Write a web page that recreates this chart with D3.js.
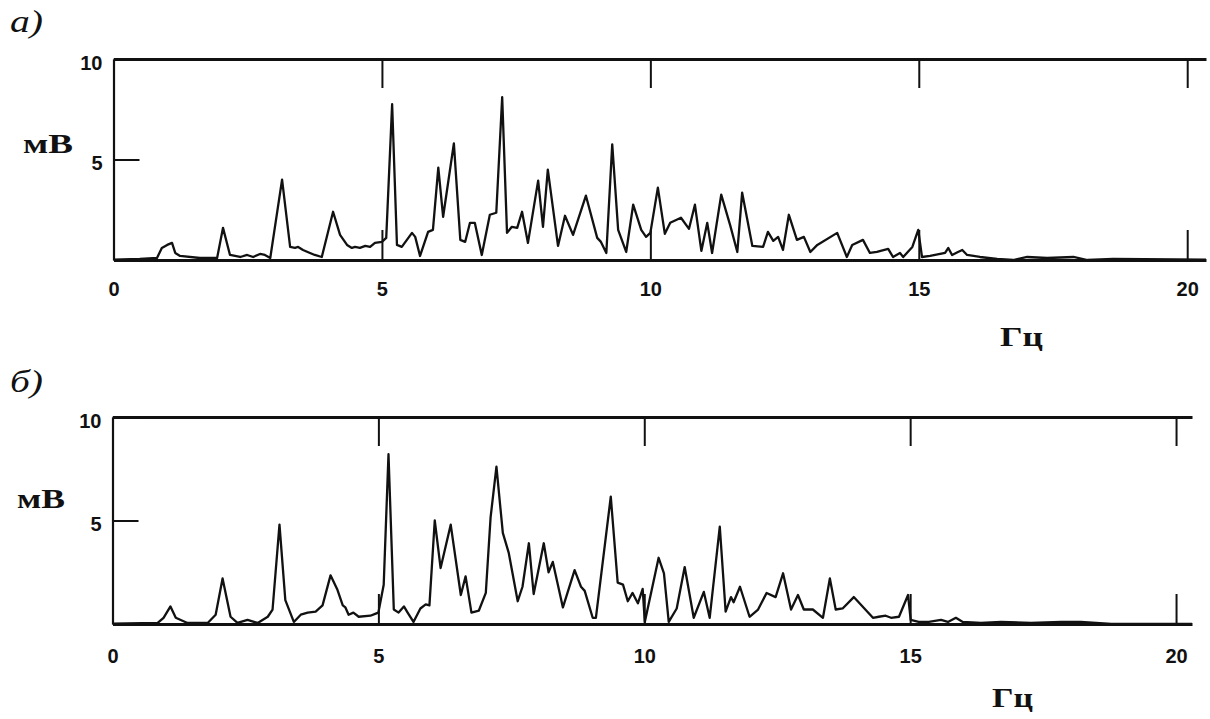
<!DOCTYPE html>
<html>
<head>
<meta charset="utf-8">
<script src="https://cdn.jsdelivr.net/npm/d3@7"></script>
<style>
  html, body { margin: 0; padding: 0; background: #fff; }
  svg { display: block; }
</style>
</head>
<body>
<svg id="chart" width="1210" height="719"></svg>
<script>
// ---- data ----
const panelLabels = ["а)", "б)"];
const yUnit = "мВ";
const xUnit = "Гц";
const xTickValues = [0, 5, 10, 15, 20];
const yTickValues = [5, 10];

// panel а) : frequency (Hz) and amplitude (mV)
const freqA = [0.0,0.49,0.81,0.90,1.00,1.09,1.15,1.24,1.61,1.93,2.04,2.17,2.36,2.49,2.60,2.73,2.82,2.92,3.14,3.29,3.38,3.44,3.53,3.66,3.75,3.88,4.09,4.22,4.35,4.44,4.50,4.59,4.69,4.78,4.87,5.00,5.08,5.19,5.28,5.37,5.56,5.62,5.71,5.86,5.95,6.05,6.14,6.34,6.46,6.55,6.64,6.73,6.86,7.01,7.13,7.24,7.33,7.42,7.52,7.61,7.72,7.91,8.00,8.09,8.28,8.41,8.56,8.80,9.01,9.08,9.18,9.29,9.40,9.55,9.68,9.83,9.92,10.0,10.14,10.27,10.37,10.57,10.72,10.83,10.95,11.06,11.15,11.32,11.49,11.62,11.71,11.90,12.10,12.19,12.29,12.38,12.47,12.58,12.73,12.86,12.98,13.11,13.48,13.66,13.76,13.96,14.09,14.22,14.43,14.52,14.65,14.71,14.88,14.99,15.06,15.21,15.49,15.55,15.62,15.73,15.81,15.90,16.14,16.46,16.76,17.02,17.39,17.88,18.14,18.62,20.35];
const valA  = [0.02,0.05,0.1,0.6,0.75,0.85,0.35,0.2,0.1,0.1,1.6,0.25,0.15,0.25,0.15,0.3,0.25,0.1,4.0,0.65,0.6,0.65,0.5,0.35,0.25,0.15,2.4,1.25,0.75,0.6,0.65,0.6,0.7,0.65,0.85,0.9,1.1,7.75,0.75,0.65,1.35,1.15,0.2,1.4,1.5,4.6,2.15,5.8,1.0,0.9,1.85,1.85,0.25,2.25,2.35,8.1,1.35,1.65,1.6,2.4,0.85,3.95,1.65,4.5,0.7,2.2,1.25,3.2,1.1,0.9,0.35,5.75,1.5,0.4,2.75,1.5,1.15,1.35,3.6,1.3,1.85,2.1,1.55,2.75,0.45,1.85,0.35,3.25,1.7,0.4,3.35,0.7,0.65,1.4,0.95,1.15,0.5,2.25,1.0,1.15,0.4,0.75,1.35,0.15,0.75,1.0,0.35,0.4,0.55,0.15,0.35,0.15,0.65,1.5,0.15,0.2,0.35,0.6,0.25,0.4,0.5,0.25,0.15,0.05,0.0,0.15,0.1,0.15,0.0,0.05,0.02];

// panel б)
const freqB = [0.0,0.85,0.96,1.09,1.19,1.41,1.79,1.94,2.07,2.22,2.35,2.54,2.73,2.92,3.01,3.14,3.25,3.41,3.54,3.67,3.82,3.95,4.10,4.23,4.33,4.38,4.44,4.53,4.63,4.85,4.95,5.00,5.10,5.19,5.29,5.38,5.48,5.55,5.66,5.79,5.89,5.96,6.06,6.17,6.36,6.55,6.64,6.75,6.89,7.02,7.11,7.22,7.34,7.45,7.62,7.71,7.83,7.92,8.11,8.20,8.28,8.47,8.69,8.81,8.88,9.03,9.09,9.37,9.50,9.60,9.69,9.78,9.88,9.97,10.01,10.27,10.37,10.46,10.61,10.76,10.93,11.12,11.23,11.42,11.53,11.63,11.68,11.80,11.98,12.14,12.30,12.47,12.61,12.76,12.89,13.00,13.17,13.36,13.49,13.60,13.73,13.94,14.30,14.41,14.54,14.64,14.79,14.96,15.01,15.16,15.35,15.58,15.71,15.86,15.99,16.33,16.71,17.27,17.84,18.21,18.78,20.3];
const valB  = [0.02,0.05,0.3,0.85,0.3,0.05,0.05,0.45,2.2,0.35,0.05,0.2,0.05,0.35,0.7,4.8,1.15,0.1,0.45,0.55,0.6,0.9,2.35,1.65,0.9,0.8,0.45,0.55,0.35,0.4,0.5,0.55,1.9,8.2,0.7,0.55,0.85,0.55,0.1,0.75,0.95,0.9,5.0,2.7,4.8,1.4,2.3,0.55,0.65,1.5,5.15,7.6,4.4,3.45,1.1,1.8,3.9,1.45,3.9,2.5,3.0,0.8,2.6,1.8,1.6,0.3,0.3,6.15,2.0,1.9,1.1,1.5,1.0,1.7,0.1,3.2,2.45,0.1,0.75,2.75,0.3,1.55,0.3,4.7,0.6,1.3,1.05,1.8,0.35,0.7,1.5,1.3,2.45,0.7,1.4,0.7,0.7,0.3,2.2,0.7,0.75,1.3,0.3,0.35,0.4,0.3,0.35,1.4,0.2,0.1,0.1,0.2,0.1,0.3,0.1,0.05,0.1,0.05,0.1,0.1,0.0,0.0];

// ---- layout ----
const panels = [
  { label: panelLabels[0], freq: freqA, val: valA,
    left: 113.5, right: 1206, top: 59, bottom: 260, xMax: 20.35,
    labelXY: [10, 32], unitY: [23, 153, 50], unitX: [1000, 346, 43], xPad: 22 },
  { label: panelLabels[1], freq: freqB, val: valB,
    left: 112.5, right: 1192, top: 417, bottom: 624, xMax: 20.3,
    labelXY: [10, 392], unitY: [17, 508, 48], unitX: [992, 707, 41], xPad: 25 }
];

const svg = d3.select("#chart");
svg.append("rect").attr("width", 1210).attr("height", 719).attr("fill", "#fff");

panels.forEach(p => {
  const x = d3.scaleLinear().domain([0, p.xMax]).range([p.left, p.right]);
  const y = d3.scaleLinear().domain([0, 10]).range([p.bottom, p.top]);
  const g = svg.append("g");

  // top frame with inward ticks
  const topAxis = d3.axisTop(x).tickValues(xTickValues.slice(1)).tickSizeInner(-29).tickSizeOuter(0).tickFormat("");
  const gt = g.append("g").attr("transform", `translate(0,${p.top})`).call(topAxis);
  gt.select(".domain").attr("stroke", "#111").attr("stroke-width", 3.2);
  gt.selectAll(".tick line").attr("stroke", "#111").attr("stroke-width", 2);

  // bottom axis (baseline) with inward ticks and labels
  const botAxis = d3.axisBottom(x).tickValues(xTickValues).tickSizeInner(-30).tickSizeOuter(0)
    .tickPadding(p.xPad).tickFormat(d3.format("d"));
  const gb = g.append("g").attr("transform", `translate(0,${p.bottom})`).call(botAxis);
  gb.select(".domain").attr("stroke", "#111").attr("stroke-width", 2.8);
  gb.selectAll(".tick line").attr("stroke", "#111").attr("stroke-width", 2)
    .filter(d => d === 0).remove();
  gb.selectAll(".tick text").attr("fill", "#111")
    .attr("font-family", "'Liberation Sans', Arial, sans-serif")
    .attr("font-size", 20).attr("font-weight", "bold");

  // left axis
  const leftAxis = d3.axisLeft(y).tickValues(yTickValues).tickSizeInner(-26).tickSizeOuter(0)
    .tickPadding(11).tickFormat(d3.format("d"));
  const gl = g.append("g").attr("transform", `translate(${p.left},0)`).call(leftAxis);
  gl.select(".domain").attr("stroke", "#111").attr("stroke-width", 2.2);
  gl.selectAll(".tick line").attr("stroke", "#111").attr("stroke-width", 2);
  gl.selectAll(".tick text").attr("fill", "#111").attr("dy", "0.5em")
    .attr("font-family", "'Liberation Sans', Arial, sans-serif")
    .attr("font-size", 20).attr("font-weight", "bold");

  // spectrum line
  const pts = p.freq.map((f, i) => [f, p.val[i]]);
  const line = d3.line().x(d => x(d[0])).y(d => y(d[1]));
  g.append("path").datum(pts).attr("d", line)
    .attr("fill", "none").attr("stroke", "#111").attr("stroke-width", 2.3)
    .attr("stroke-linejoin", "round");

  // texts
  g.append("text").attr("x", p.labelXY[0]).attr("y", p.labelXY[1])
    .attr("font-family", "'Liberation Serif', 'Times New Roman', serif")
    .attr("font-style", "italic").attr("font-size", 31).attr("fill", "#111")
    .attr("textLength", 33).attr("lengthAdjust", "spacingAndGlyphs")
    .text(p.label);
  g.append("text").attr("x", p.unitY[0]).attr("y", p.unitY[1])
    .attr("font-family", "'Liberation Serif', 'Times New Roman', serif")
    .attr("font-weight", "bold").attr("font-size", 27).attr("fill", "#111")
    .attr("textLength", p.unitY[2]).attr("lengthAdjust", "spacingAndGlyphs")
    .text(yUnit);
  g.append("text").attr("x", p.unitX[0]).attr("y", p.unitX[1])
    .attr("font-family", "'Liberation Serif', 'Times New Roman', serif")
    .attr("font-weight", "bold").attr("font-size", 27).attr("fill", "#111")
    .attr("textLength", p.unitX[2]).attr("lengthAdjust", "spacingAndGlyphs")
    .text(xUnit);
});
</script>
</body>
</html>
